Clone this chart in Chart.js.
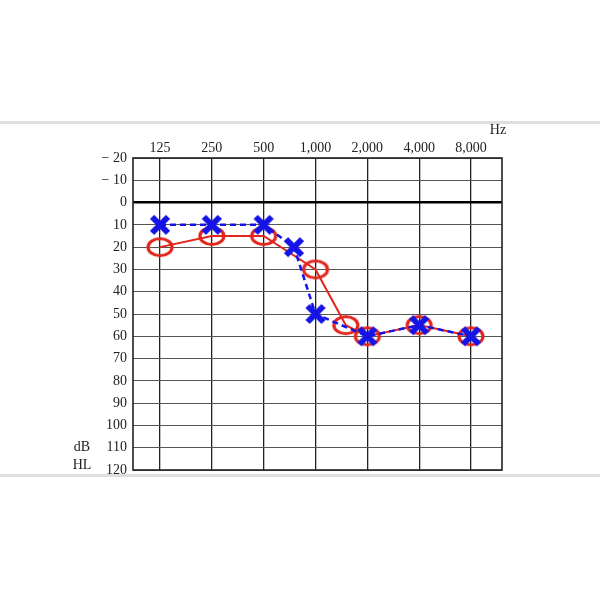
<!DOCTYPE html>
<html>
<head>
<meta charset="utf-8">
<script src="https://cdn.jsdelivr.net/npm/chart.js@4"></script>
<style>
  html, body { margin: 0; padding: 0; background: #fff; }
  #wrap { position: relative; width: 600px; height: 600px; }
  .band { position: absolute; left: 0; width: 600px; height: 3px; background: #dedede; }
  canvas { position: absolute; left: 0; top: 0; }
</style>
</head>
<body>
<div id="wrap">
  <div class="band" style="top:121px"></div>
  <div class="band" style="top:474px"></div>
  <canvas id="audiogram" width="600" height="600"></canvas>
</div>
<script>
// audiogram data (Hz / dB HL)
const freqTicks = [125, 250, 500, 1000, 2000, 4000, 8000];
const freqLabels = ['125', '250', '500', '1,000', '2,000', '4,000', '8,000'];
const dbTicks = [-20, -10, 0, 10, 20, 30, 40, 50, 60, 70, 80, 90, 100, 110, 120];

// right ear (red circles, solid)
const rightFreq = [125, 250, 500, 1000, 1500, 2000, 4000, 8000];
const rightDb = [20, 15, 15, 30, 55, 60, 55, 60];

// left ear (blue crosses, dashed)
const leftFreq = [125, 250, 500, 750, 1000, 2000, 4000, 8000];
const leftDb = [10, 10, 10, 20, 50, 60, 55, 60];

const RED = '#e2261d';
const BLUE = '#1414e6';

function makeCircle() {
  const c = document.createElement('canvas');
  c.width = 30; c.height = 24;
  const g = c.getContext('2d');
  g.strokeStyle = RED;
  g.lineWidth = 3.2;
  g.beginPath();
  g.ellipse(15, 12, 12, 8.5, 0, 0, Math.PI * 2);
  g.stroke();
  return c;
}

function makeCross() {
  const c = document.createElement('canvas');
  c.width = 24; c.height = 24;
  const g = c.getContext('2d');
  g.strokeStyle = BLUE;
  g.lineWidth = 6;
  g.beginPath();
  g.moveTo(4, 4); g.lineTo(20, 20);
  g.moveTo(20, 4); g.lineTo(4, 20);
  g.stroke();
  return c;
}

const toPoints = (xs, ys) => xs.map((x, i) => ({ x: x, y: ys[i] }));

const framePlugin = {
  id: 'frame',
  beforeDatasetsDraw(chart) {
    const { ctx, chartArea: a } = chart;
    ctx.save();
    ctx.strokeStyle = '#222';
    ctx.lineWidth = 1.6;
    ctx.strokeRect(a.left, a.top, a.right - a.left, a.bottom - a.top);
    ctx.restore();
  },
  afterDraw(chart) {
    const { ctx, chartArea: a } = chart;
    ctx.save();
    ctx.fillStyle = '#222';
    ctx.font = '14px "Liberation Serif", serif';
    ctx.textAlign = 'center';
    ctx.textBaseline = 'middle';
    ctx.fillText('Hz', a.right - 4, 130);
    ctx.fillText('dB', 82, chart.scales.y.getPixelForValue(110));
    ctx.fillText('HL', 82, chart.scales.y.getPixelForValue(120) - 5);
    ctx.restore();
  }
};

new Chart(document.getElementById('audiogram').getContext('2d'), {
  type: 'line',
  data: {
    datasets: [
      {
        label: 'Left',
        data: toPoints(leftFreq, leftDb),
        borderColor: BLUE,
        borderWidth: 2.5,
        borderDash: [6, 4],
        pointStyle: makeCross(),
        tension: 0
      },
      {
        label: 'Right',
        data: toPoints(rightFreq, rightDb),
        borderColor: RED,
        borderWidth: 2,
        pointStyle: makeCircle(),
        tension: 0
      }
    ]
  },
  options: {
    responsive: false,
    animation: false,
    layout: { padding: { left: 0, top: 0, right: 98, bottom: 130 } },
    plugins: {
      legend: { display: false },
      tooltip: { enabled: false }
    },
    scales: {
      x: {
        type: 'logarithmic',
        position: 'top',
        min: 87.1,
        max: 12110,
        afterBuildTicks: scale => { scale.ticks = freqTicks.map(v => ({ value: v })); },
        afterFit: scale => { scale.height = 158; },
        ticks: {
          autoSkip: false,
          maxRotation: 0,
          padding: 1,
          color: '#222',
          font: { family: '"Liberation Serif", serif', size: 14 },
          callback: v => freqLabels[freqTicks.indexOf(v)]
        },
        grid: { color: '#222', lineWidth: 1.3, drawTicks: false },
        border: { display: false }
      },
      y: {
        reverse: true,
        min: -20,
        max: 120,
        afterBuildTicks: scale => { scale.ticks = dbTicks.map(v => ({ value: v })); },
        afterFit: scale => { scale.width = 133; },
        ticks: {
          padding: 6,
          color: '#222',
          font: { family: '"Liberation Serif", serif', size: 14 },
          callback: v => v < 0 ? '\u2212 ' + Math.abs(v) : String(v)
        },
        grid: {
          drawTicks: false,
          color: c => c.tick && c.tick.value === 0 ? '#000' : '#555',
          lineWidth: c => c.tick && c.tick.value === 0 ? 2.5 : 1
        },
        border: { display: false }
      }
    }
  },
  plugins: [framePlugin]
});
</script>
</body>
</html>
